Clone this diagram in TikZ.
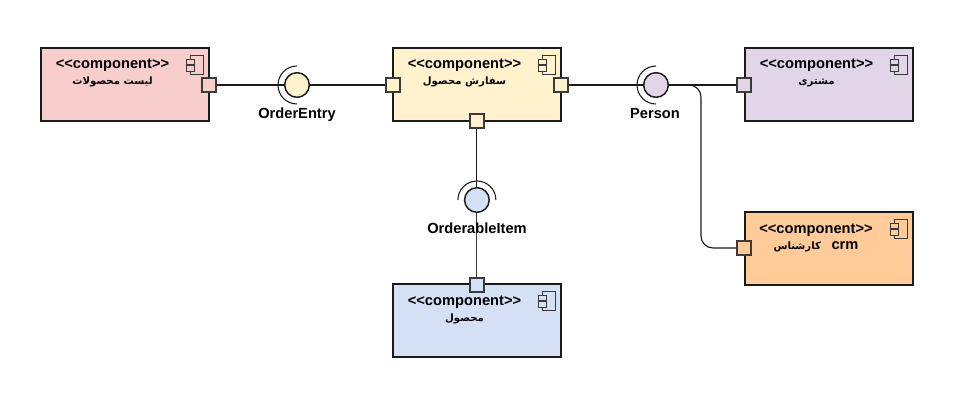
\documentclass[tikz,border=0pt]{standalone}
\usepackage{fontspec}
\setmainfont{Liberation Sans}
\newfontfamily\farsifont[Script=Arabic]{DejaVu Sans}
\TeXXeTstate=1
\usetikzlibrary{positioning}
\usetikzlibrary{calc}
\definecolor{cpink}{HTML}{F8CECC}
\definecolor{cyellow}{HTML}{FFF2CC}
\definecolor{cpurple}{HTML}{E1D5E7}
\definecolor{cblue}{HTML}{D4E1F5}
\definecolor{corange}{HTML}{FFCC99}
\definecolor{cline}{HTML}{1A1A1A}
\definecolor{cport}{HTML}{3A3A3A}
\tikzset{
compicon/.pic={
\draw[pic actions] (-19.5,8) rectangle (-6.5,27);
\draw[pic actions] (-23,12) rectangle (-15.5,17.5);
\draw[pic actions] (-23,18.5) rectangle (-15.5,24);
}}
\newcommand{\fa}[1]{{\fontsize{7.6}{9}\farsifont\beginR #1\endR}}
\newcommand{\stereo}{<{}<component>{}>}

\begin{document}
\begin{tikzpicture}
[
x=0.75pt, y=-0.75pt,
comp/.style={rectangle, draw=cline, line width=1.2pt, minimum width=126pt, minimum height=54.6pt, inner sep=0pt},
port/.style={rectangle, draw=cport, line width=1.1pt, minimum size=10.5pt, inner sep=0pt},
ball/.style={circle, draw=cline, line width=1.1pt, minimum size=18.5pt, inner sep=0pt},
wire/.style={draw=cline, line width=0.85pt},
sock/.style={draw=cline, line width=0.8pt},
icon/.style={draw=cport, line width=0.9pt},
ctext/.style={font=\bfseries\fontsize{11}{12}\selectfont, align=center, inner sep=0pt},
lbl/.style={font=\bfseries\fontsize{11}{13}\selectfont, inner sep=0pt, anchor=base}
]
\useasboundingbox (0,0) rectangle (975,420);

\node[comp, fill=cpink] (list) at (125,84.5) {};
\node[comp, fill=cyellow] (order) at (477,84.5) {};
\node[comp, fill=cpurple] (customer) at (829,84.5) {};
\node[comp, fill=corange] (expert) at (829,248.5) {};
\node[comp, fill=cblue] (product) at (477,320.6) {};

\pic[icon, fill=cpink] at (list.north east) {compicon};
\pic[icon, fill=cyellow] at (order.north east) {compicon};
\pic[icon, fill=cpurple] at (customer.north east) {compicon};
\pic[icon, fill=corange] at (expert.north east) {compicon};
\pic[icon, fill=cblue] at (product.north east) {compicon};

\node[port, fill=cpink] (listp) at (209,85) {};
\node[port, fill=cyellow] (orderl) at (393,85) {};
\node[port, fill=cyellow] (orderr) at (561,85) {};
\node[port, fill=cyellow] (orderb) at (476.9,121) {};
\node[port, fill=cpurple] (customerp) at (744,85) {};
\node[port, fill=corange] (expertp) at (744,248) {};
\node[port, fill=cblue] (productp) at (476.9,285) {};

\node[ball, fill=cyellow] (oe) at (297,85) {};
\node[ball, fill=cpurple] (person) at (656,85) {};
\node[ball, fill=cblue] (item) at (476.9,200) {};

\coordinate (bend) at (701,248);

\draw[wire] (listp) -- (oe);
\draw[wire] (oe) -- (orderl);
\draw[wire] (orderr) -- (person);
\draw[wire] (person) -- (customerp);
\draw[wire, rounded corners=9pt] (person.east) -| (bend) -- (expertp);
\draw[wire] (orderb) -- (item);
\draw[wire, draw=cport] (item) -- (productp);

\draw[sock] ($(oe)+(0,19)$) arc[start angle=90, end angle=270, radius=19];
\draw[sock] ($(person)+(0,19)$) arc[start angle=90, end angle=270, radius=19];
\draw[sock] ($(item)+(-19,0)$) arc[start angle=180, end angle=360, radius=19];

\node[lbl] (oelbl) at (297,118.5) {OrderEntry};
\node[lbl] (personlbl) at (655,118.5) {Person};
\node[lbl] (itemlbl) at (477,233.5) {OrderableItem};

\node[ctext] (listt) at (112.5,73) {\stereo\\\fa{لیست محصولات}};
\node[ctext] (ordert) at (464.5,72.5) {\stereo\\\fa{سفارش محصول}};
\node[ctext] (customert) at (816.5,73) {\stereo\\\fa{مشتری}};
\node[ctext] (expertt) at (816,238) {\stereo\\\fa{\beginL{\rmfamily\bfseries\fontsize{11}{12}\selectfont crm}\endL{}\ \ \ کارشناس}};
\node[ctext] (productt) at (464.5,309.5) {\stereo\\\fa{محصول}};
\end{tikzpicture}
\end{document}
